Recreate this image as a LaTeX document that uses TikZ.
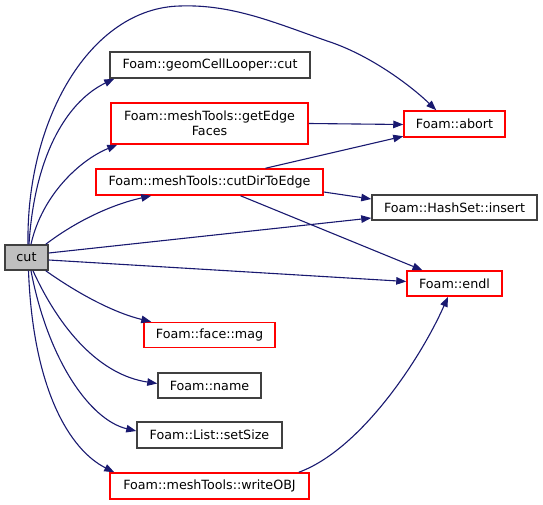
\documentclass[tikz,border=0pt]{standalone}
\usepackage{fontspec}
\setmainfont{DejaVu Sans}
\usetikzlibrary{arrows.meta}
\definecolor{edgeblue}{RGB}{25,25,112}
\definecolor{redbox}{RGB}{255,0,0}
\definecolor{greybox}{RGB}{64,64,64}
\definecolor{cutfill}{RGB}{191,191,191}
\begin{document}
\begin{tikzpicture}[x=1bp,y=-1bp,
  box/.style={draw=greybox,line width=1.5bp,inner sep=0pt,align=center,
    font=\fontsize{12.7bp}{14.5bp}\selectfont},
  redn/.style={box,draw=redbox},
  blk/.style={box,draw=greybox},
  edge/.style={draw=edgeblue,line width=1.1bp,-{Triangle[length=10bp,width=7.5bp]},fill=none},
]
\useasboundingbox (0,0) rectangle (543,505);
\node[blk,fill=cutfill,minimum width=43bp,minimum height=25bp] (cut) at (26.5,257.5) {cut};
\node[blk,minimum width=200bp,minimum height=26bp] (geom) at (210,65) {Foam::geomCellLooper::cut};
\node[redn,minimum width=197bp,minimum height=41bp] (gef) at (209.5,123.5) {Foam::meshTools::getEdge\\Faces};
\node[redn,minimum width=227bp,minimum height=26bp] (cde) at (209.5,182) {Foam::meshTools::cutDirToEdge};
\node[redn,minimum width=101bp,minimum height=26bp] (abort) at (454.5,124) {Foam::abort};
\node[blk,minimum width=165bp,minimum height=25bp] (ins) at (454.5,207.5) {Foam::HashSet::insert};
\node[redn,minimum width=95bp,minimum height=25bp] (endl) at (454.5,283.5) {Foam::endl};
\node[redn,minimum width=131bp,minimum height=25bp] (mag) at (209.5,335) {Foam::face::mag};
\node[blk,minimum width=103bp,minimum height=25bp] (name) at (209.5,385.5) {Foam::name};
\node[blk,minimum width=145bp,minimum height=26bp] (setsize) at (209.5,435) {Foam::List::setSize};
\node[redn,minimum width=199bp,minimum height=26bp] (wobj) at (209.5,486) {Foam::meshTools::writeOBJ};

% from cut, upward
\draw[edge] ([xshift=1.5bp]cut.north) .. controls (26,120) and (90,8) .. (180,6)
  .. controls (235,4) and (280,25) .. (333,43)
  .. controls (372,57) and (410,85) .. ([xshift=33bp]abort.north west);
\draw[edge] ([xshift=2.5bp]cut.north) .. controls (35,150) and (70,100) .. ([xshift=5bp]geom.south west);
\draw[edge] ([xshift=4.5bp]cut.north) .. controls (42,195) and (80,160) .. ([xshift=7bp]gef.south west);
\draw[edge] ([xshift=-3bp]cut.north east) .. controls (75,222) and (110,205) .. ([xshift=56bp]cde.south west);
% straight from cut
\draw[edge] ([yshift=4.5bp]cut.east) -- ([yshift=-10.5bp]ins.west);
\draw[edge] ([yshift=-2.5bp]cut.east) -- ([yshift=2bp]endl.west);
% from cut, downward
\draw[edge] ([xshift=-3bp]cut.south east) .. controls (80,295) and (115,313) .. ([xshift=8bp]mag.north west);
\draw[edge] ([xshift=6.5bp]cut.south) .. controls (60,330) and (100,375) .. ([yshift=2bp]name.west);
\draw[edge] ([xshift=4.5bp]cut.south) .. controls (48,360) and (90,420) .. ([yshift=4bp]setsize.west);
\draw[edge] ([xshift=2bp]cut.south) .. controls (33,390) and (70,450) .. ([xshift=5bp]wobj.north west);
% others
\draw[edge] (gef.east) -- ([yshift=-0.5bp]abort.west);
\draw[edge] ([xshift=56bp]cde.north) -- ([yshift=1.5bp]abort.south west);
\draw[edge] ([yshift=-10bp]cde.east) -- ([yshift=8.5bp]ins.west);
\draw[edge] ([xshift=31bp]cde.south) -- ([xshift=-32bp]endl.north);
\draw[edge] ([xshift=-11bp]wobj.north east) .. controls (360,450) and (420,360) .. ([xshift=-6.5bp]endl.south);
\end{tikzpicture}
\end{document}
